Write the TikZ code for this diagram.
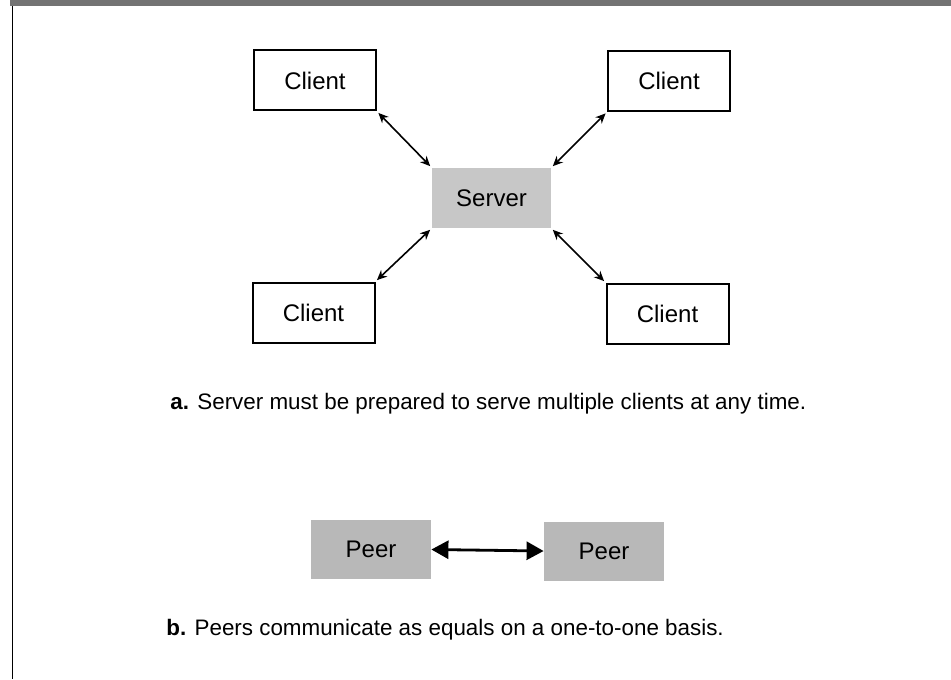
\documentclass[tikz,border=0pt]{standalone}
\usepackage{fontspec}
\setmainfont{Liberation Sans}
\usetikzlibrary{arrows.meta}
\begin{document}
\begin{tikzpicture}[x=0.5pt,y=-0.5pt,
  clientbox/.style={draw=black,line width=1pt,minimum width=61pt,minimum height=30pt,inner sep=0pt,font=\fontsize{12}{14}\selectfont},
  serverbox/.style={fill=black!22,draw=none,minimum width=59.5pt,minimum height=30pt,inner sep=0pt,font=\fontsize{12}{14}\selectfont},
  peerbox/.style={fill=black!28,draw=none,minimum width=60pt,minimum height=29.5pt,inner sep=0pt,font=\fontsize{12}{14}\selectfont},
  link/.style={line width=0.8pt,{Stealth[length=5pt,width=4.5pt]}-{Stealth[length=5pt,width=4.5pt]},shorten <=1pt,shorten >=1pt},
  peerlink/.style={line width=1.4pt,{Triangle[length=8.5pt,width=9pt]}-{Triangle[length=8.5pt,width=9pt]}},
  caption/.style={anchor=west,inner sep=0pt,font=\fontsize{11.2}{13}\selectfont}]
\useasboundingbox (0,0) rectangle (951,679);
% frame
\fill[black!55] (10,0) rectangle (951,6);
\draw[line width=0.5pt] (12,6) -- (12,679);
% nodes
\node[clientbox] (ctl) at (315,80.5) {Client};
\node[clientbox] (ctr) at (669,81) {Client};
\node[clientbox] (cbl) at (313.5,312.5) {Client};
\node[clientbox] (cbr) at (667.5,313.5) {Client};
\node[serverbox] (srv) at (491.5,198) {Server};
% links
\draw[link] (ctl.south east) -- (srv.north west);
\draw[link] (ctr.south west) -- (srv.north east);
\draw[link] (cbl.north east) -- (srv.south west);
\draw[link] (cbr.north west) -- (srv.south east);
\node[caption] (capa) at (170,404) {\textbf{a.} Server must be prepared to serve multiple clients at any time.};
% peers
\node[peerbox] (pl) at (371,549.5) {Peer};
\node[peerbox] (pr) at (604,551) {Peer};
\draw[peerlink] (pl.east) -- (pr.west);
\node[caption] (capb) at (166,630) {\textbf{b.} Peers communicate as equals on a one-to-one basis.};
\end{tikzpicture}
\end{document}
